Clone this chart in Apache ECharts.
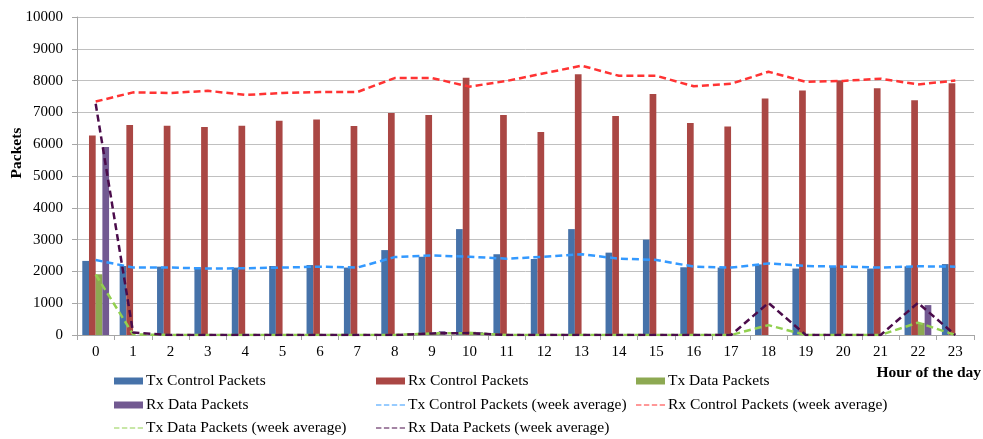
<!DOCTYPE html>
<html>
<head>
<meta charset="utf-8">
<script src="https://cdn.jsdelivr.net/npm/echarts@6/dist/echarts.min.js"></script>
<style>
html,body{margin:0;padding:0;background:#fff;}
#chart{width:983px;height:439px;}
</style>
</head>
<body>
<div id="chart"></div>
<script>
var hours = ['0','1','2','3','4','5','6','7','8','9','10','11','12','13','14','15','16','17','18','19','20','21','22','23'];
var yTicks = [0,1000,2000,3000,4000,5000,6000,7000,8000,9000,10000];

var txControl = [2330,2170,2150,2100,2120,2170,2200,2120,2670,2460,3330,2540,2390,3330,2590,3000,2130,2120,2220,2090,2150,2090,2160,2230];
var rxControl = [6270,6600,6580,6540,6580,6740,6780,6570,6980,6920,8090,6920,6380,8200,6890,7580,6670,6560,7440,7690,8000,7760,7380,7920];
var txData    = [1910,0,0,0,0,0,0,0,0,60,100,0,0,0,0,0,0,0,0,0,0,0,380,0];
var rxData    = [5910,0,0,0,0,0,0,0,0,120,90,0,0,0,0,0,0,0,0,0,0,0,940,0];

var txControlAvg = [2360,2120,2120,2090,2100,2120,2150,2120,2450,2500,2460,2400,2460,2540,2400,2360,2150,2120,2250,2170,2150,2120,2160,2150];
var rxControlAvg = [7340,7630,7610,7680,7550,7610,7640,7640,8080,8080,7810,7990,8230,8470,8150,8150,7820,7900,8280,7960,7990,8060,7880,8000];
var txDataAvg    = [1900,20,0,0,0,0,0,0,0,50,60,0,0,0,0,0,0,0,310,0,0,0,390,0];
var rxDataAvg    = [7270,80,0,0,0,0,0,0,0,50,60,0,0,0,0,0,0,0,1010,0,0,0,1010,0];

var names = ['Tx Control Packets','Rx Control Packets','Tx Data Packets','Rx Data Packets',
  'Tx Control Packets (week average)','Rx Control Packets (week average)',
  'Tx Data Packets (week average)','Rx Data Packets (week average)'];

var FONT = 'Liberation Serif, Times New Roman, serif';
var barColors = ['#4672A9','#AA4744','#8DA952','#725991'];
var lineColors = ['#3399FF','#FF3333','#92D050','#4B0C4B'];
var DASH_ICON = 'path://M0,0h5.4v1h-5.4zM7.9,0h5.4v1h-5.4zM15.8,0h5.4v1h-5.4zM23.7,0h5.3v1h-5.3z';

var chart = echarts.init(document.getElementById('chart'), null, {renderer:'canvas'});

var barData = [txControl, rxControl, txData, rxData];
var lineData = [txControlAvg, rxControlAvg, txDataAvg, rxDataAvg];
var series = [];
for (var i = 0; i < 4; i++) {
  series.push({
    name: names[i], type: 'bar', data: barData[i],
    barWidth: 6.7, barGap: '0%',
    itemStyle: {color: barColors[i]},
    z: 2
  });
}
for (var j = 0; j < 4; j++) {
  series.push({
    name: names[4+j], type: 'line', data: lineData[j],
    symbol: 'none', showSymbol: false,
    lineStyle: {color: lineColors[j], width: 2.5, type: [7,4]},
    itemStyle: {color: lineColors[j]},
    z: 5
  });
}

var colLeft = [114, 376, 636];
var rowMid = [381, 405, 428];
var pos = [[0,0],[1,0],[2,0],[0,1],[1,1],[2,1],[0,2],[1,2]];
var legends = [];
for (var k = 0; k < 8; k++) {
  var isBar = k < 4;
  legends.push({
    data: [names[k]],
    left: colLeft[pos[k][0]],
    top: rowMid[pos[k][1]] - 9,
    padding: 0,
    itemWidth: 29,
    itemHeight: isBar ? 7 : 2.5,
    itemGap: 0,
    selectedMode: false,
    icon: isBar ? 'rect' : DASH_ICON,
    itemStyle: {borderWidth: 0},
    textStyle: {fontFamily: FONT, fontSize: 15.5, color: '#000', lineHeight: 18, padding: [0,0,0,-2]}
  });
}

chart.setOption({
  animation: false,
  backgroundColor: '#fff',
  grid: {left: 77, right: 9, top: 17, bottom: 104, containLabel: false},
  legend: legends,
  title: {
    text: 'Hour of the day', right: 2, top: 365, padding: 0,
    textStyle: {fontFamily: FONT, fontSize: 15.5, fontWeight: 'bold', color: '#000'}
  },
  graphic: [{
    type: 'text', x: 17, y: 153, rotation: Math.PI/2,
    style: {text: 'Packets', font: 'bold 15.5px ' + FONT, fill: '#000', textAlign: 'center', textVerticalAlign: 'middle'}
  }],
  xAxis: {
    type: 'category', data: hours, boundaryGap: true,
    axisLine: {lineStyle: {color: '#a6a6a6', width: 1}},
    axisTick: {show: true, length: 5, lineStyle: {color: '#a6a6a6'}},
    axisLabel: {fontFamily: FONT, fontSize: 15, color: '#000', margin: 10}
  },
  yAxis: {
    type: 'value', min: yTicks[0], max: yTicks[yTicks.length-1], interval: 1000,
    axisLine: {show: true, lineStyle: {color: '#a6a6a6', width: 1}},
    axisTick: {show: true, length: 5, lineStyle: {color: '#a6a6a6'}},
    splitLine: {lineStyle: {color: '#c0c0c0', width: 1}},
    axisLabel: {fontFamily: FONT, fontSize: 15, color: '#000', margin: 14,
      formatter: function (v) { return String(v); }}
  },
  series: series
});
</script>
</body>
</html>
